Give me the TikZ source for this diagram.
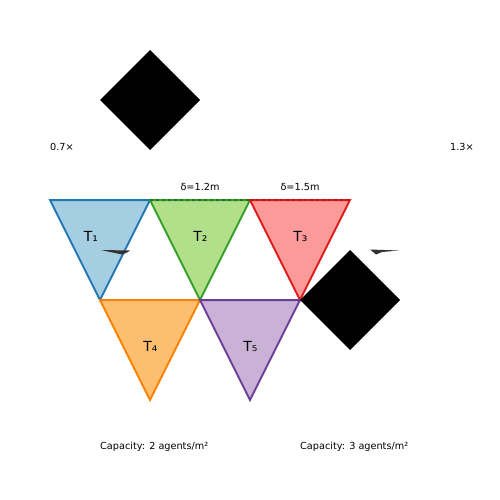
\documentclass[tikz,border=0pt]{standalone}
\usepackage{fontspec}
\setmainfont{DejaVu Sans}
\definecolor{paired-light-blue}{HTML}{A6CEE3}
\definecolor{paired-blue}{HTML}{1F78B4}
\definecolor{paired-light-green}{HTML}{B2DF8A}
\definecolor{paired-green}{HTML}{33A02C}
\definecolor{paired-light-red}{HTML}{FB9A99}
\definecolor{paired-red}{HTML}{E31A1C}
\definecolor{paired-light-orange}{HTML}{FDBF6F}
\definecolor{paired-orange}{HTML}{FF7F00}
\definecolor{paired-light-purple}{HTML}{CAB2D6}
\definecolor{paired-purple}{HTML}{6A3D9A}
\definecolor{wedge-grey}{HTML}{333333}

\begin{document}
\begin{tikzpicture}[x=1pt,y=-1pt,
  tri/.style={line width=2pt,line join=miter},
  tlabel/.style={font=\fontsize{13.9}{16}\selectfont,inner sep=0pt},
  small/.style={font=\fontsize{9.7}{11}\selectfont,inner sep=0pt}]
\useasboundingbox (0,0) rectangle (500,500);
%Dreiecke:
\filldraw[tri,draw=paired-blue,fill=paired-light-blue] (50,200) -- (150,200) -- (100,300) -- cycle;
\filldraw[tri,draw=paired-green,fill=paired-light-green] (150,200) -- (250,200) -- (200,300) -- cycle;
\filldraw[tri,draw=paired-red,fill=paired-light-red] (250,200) -- (350,200) -- (300,300) -- cycle;
\filldraw[tri,draw=paired-orange,fill=paired-light-orange] (100,300) -- (200,300) -- (150,400) -- cycle;
\filldraw[tri,draw=paired-purple,fill=paired-light-purple] (200,300) -- (300,300) -- (250,400) -- cycle;
%gestrichelte Kanten:
\draw[line width=1.5pt,paired-green!70!black,dash pattern=on 3pt off 3pt] (150,200) -- (250,200);
\draw[line width=1.5pt,paired-red!80!black,dash pattern=on 3pt off 3pt] (250,200) -- (350,200);
%Rauten:
\fill[black] (150,50) -- (200,100) -- (150,150) -- (100,100) -- cycle;
\fill[black] (350,250) -- (400,300) -- (350,350) -- (300,300) -- cycle;
%Keile:
\fill[wedge-grey] (101,250) -- (130,250.5) -- (127,252.5) -- (122,254.5) -- cycle;
\fill[wedge-grey] (370,249.5) -- (399,250.5) -- (382,252) -- (376,254.5) -- cycle;
%Beschriftungen:
\node[tlabel] (t1) at (91,236) {T₁};
\node[tlabel] (t2) at (200.5,236) {T₂};
\node[tlabel] (t3) at (300.5,236) {T₃};
\node[tlabel] (t4) at (150.5,346) {T₄};
\node[tlabel] (t5) at (250.5,346) {T₅};
\node[small] (d12) at (200,186.5) {δ=1.2m};
\node[small] (d15) at (300,186.5) {δ=1.5m};
\node[small,anchor=west] (s07) at (50,146.5) {0.7×};
\node[small,anchor=west] (s13) at (450,146.5) {1.3×};
\node[small,anchor=west] (cap2) at (100,446.5) {Capacity: 2 agents/m²};
\node[small,anchor=west] (cap3) at (300,446.5) {Capacity: 3 agents/m²};
\end{tikzpicture}
\end{document}
